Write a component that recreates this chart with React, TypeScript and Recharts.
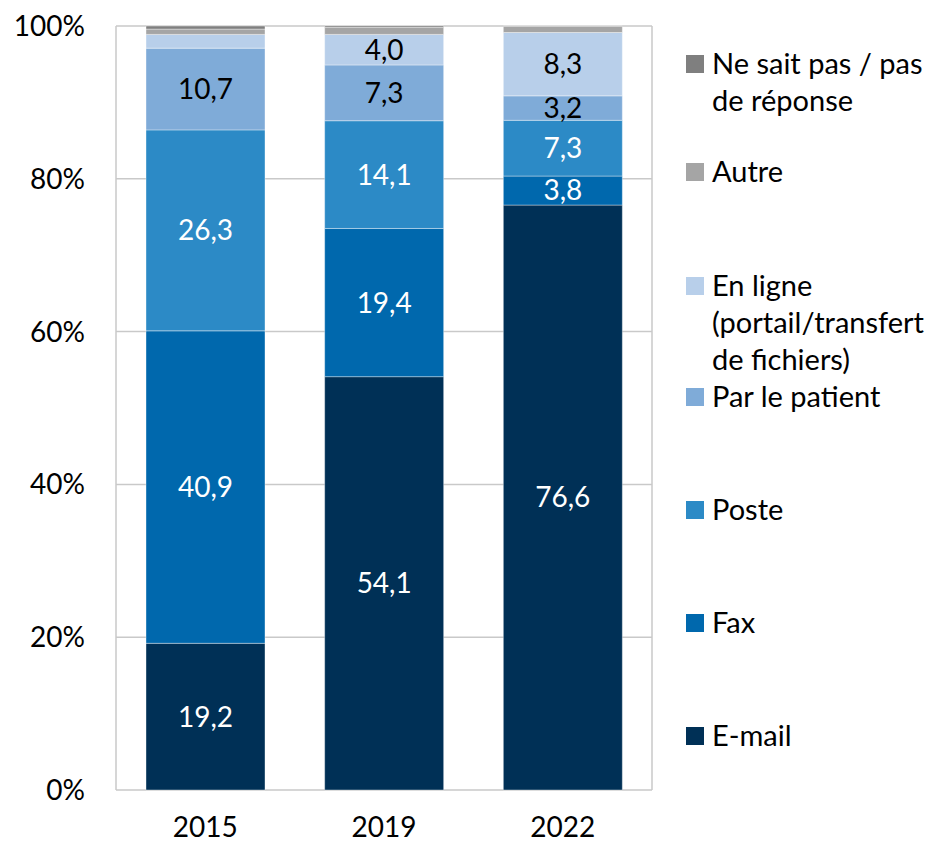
import { BarChart, Bar, XAxis, YAxis, CartesianGrid, LabelList } from 'recharts'

const years = ['2015', '2019', '2022']

const email = [19.2, 54.1, 76.6]
const fax = [40.9, 19.4, 3.8]
const poste = [26.3, 14.1, 7.3]
const parPatient = [10.7, 7.3, 3.2]
const enLigne = [1.8, 4.0, 8.3]
const autre = [0.7, 0.9, 0.8]
const neSaitPas = [0.4, 0.2, 0.05]

const yTicks = [0, 0.2, 0.4, 0.6, 0.8, 1]

// bottom to top
const series = [
  { key: 'email', name: 'E-mail', values: email, color: '#003056', label: '#ffffff' },
  { key: 'fax', name: 'Fax', values: fax, color: '#0068ad', label: '#ffffff' },
  { key: 'poste', name: 'Poste', values: poste, color: '#2c8ac6', label: '#ffffff' },
  { key: 'parPatient', name: 'Par le patient', values: parPatient, color: '#7fabd8', label: '#000000' },
  { key: 'enLigne', name: 'En ligne\n(portail/transfert\nde fichiers)', values: enLigne, color: '#b8cfea', label: '#000000' },
  { key: 'autre', name: 'Autre', values: autre, color: '#a5a5a5', label: null },
  { key: 'neSaitPas', name: 'Ne sait pas / pas\nde réponse', values: neSaitPas, color: '#7f7f7f', label: null },
]

const data = years.map((year, i) => {
  const row: Record<string, string | number> = { year }
  series.forEach((s) => {
    row[s.key] = s.values[i]
  })
  return row
})

const FONT = 'Lato, sans-serif'

// legend entry top offsets (first line centre), top to bottom
const legendRows = [65, 173, 287, 398, 511, 624, 737]

function fmt(v: unknown) {
  const n = Number(v)
  if (n < 2.5) return ''
  return n.toFixed(1).replace('.', ',')
}

function ChartLegend() {
  const items = [...series].reverse()
  return (
    <div style={{ position: 'absolute', left: 686, top: 0, width: 250, height: 843, fontFamily: FONT, fontSize: 29, color: '#000' }}>
      {items.map((s, i) => (
        <div key={s.key} style={{ position: 'absolute', left: 0, top: legendRows[i] - 21, display: 'flex' }}>
          <div style={{ width: 18, height: 18, background: s.color, marginTop: 11, marginRight: 8 }} />
          <div style={{ whiteSpace: 'pre', lineHeight: '37px' }}>{s.name}</div>
        </div>
      ))}
    </div>
  )
}

export default function App() {
  return (
    <div style={{ position: 'absolute', left: 0, top: 0, width: 936, height: 843, background: '#fff' }}>
      <BarChart
        width={936}
        height={843}
        data={data}
        stackOffset="expand"
        margin={{ top: 26, right: 284, bottom: 0, left: 0 }}
      >
        <CartesianGrid
          stroke="#c9c9c9"
          strokeWidth={1.5}
          verticalCoordinatesGenerator={({ offset }: any) => [offset.left, offset.left + offset.width]}
        />
        <XAxis
          dataKey="year"
          axisLine={false}
          tickLine={false}
          tickSize={0}
          tickMargin={27}
          height={53}
          tick={{ fontSize: 28, fill: '#000', fontFamily: FONT }}
        />
        <YAxis
          type="number"
          domain={[0, 1]}
          ticks={yTicks}
          axisLine={false}
          tickLine={false}
          tickSize={0}
          tickMargin={31}
          width={116}
          tickFormatter={(v: number) => `${Math.round(v * 100)}%`}
          tick={{ fontSize: 28, fill: '#000', fontFamily: FONT }}
        />
        {series.map((s) => (
          <Bar
            key={s.key}
            dataKey={s.key}
            name={s.name}
            stackId="a"
            fill={s.color}
            stroke="#ffffff"
            strokeOpacity={0.5}
            strokeWidth={0.75}
            barSize={119}
            isAnimationActive={false}
          >
            {s.label && (
              <LabelList
                dataKey={s.key}
                position="center"
                formatter={fmt}
                fill={s.label}
                style={{ fontSize: 28, fontFamily: FONT }}
              />
            )}
          </Bar>
        ))}
      </BarChart>
      <ChartLegend />
    </div>
  )
}
